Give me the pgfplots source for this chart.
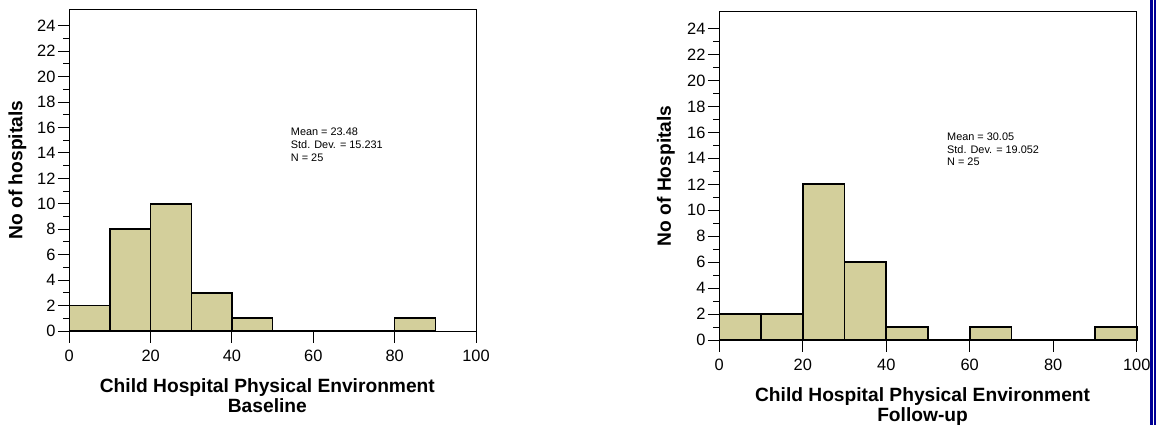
\documentclass[border=0pt]{standalone}
\usepackage{pgfplots}
\pgfplotsset{compat=1.18}
\usepackage{fontspec}
\setmainfont{Liberation Sans}
\definecolor{barfill}{RGB}{211,207,155}
\definecolor{navyb}{RGB}{0,0,150}
\pgfplotsset{
  histstyle/.style={
    scale only axis, anchor=south west,
    xmin=0, xmax=100, ymin=0, ymax=25.3,
    xtick={0,20,...,100}, ytick={0,2,...,24},
    minor y tick num=1,
    tick pos=left,
    tick align=outside,
    major tick length=5.75pt, minor tick length=3pt,
    every tick/.style={black, line width=0.5pt},
    axis line style={black, line width=0.5pt},
    tick label style={font=\fontsize{8.2}{9}\selectfont},
    /pgf/number format/assume math mode=true,
    yticklabel style={inner sep=1pt},
    label style={font=\fontsize{9.6}{10}\selectfont\bfseries},
    xlabel style={at={(axis description cs:0.487,0)}, anchor=north, yshift=-23.5pt, inner sep=0pt, align=center},
    clip=false,
  }
}
\begin{document}
\begin{tikzpicture}
\useasboundingbox (0,0) rectangle (578.5pt,212.5pt);
\begin{axis}[histstyle,
  at={(34.65pt,47pt)}, width=203.35pt, height=160.85pt,
  xlabel={Child Hospital Physical Environment\\Baseline},
  ylabel={No of hospitals},
  ylabel style={at={(axis description cs:-0.1275,0.5)}, anchor=center},
]
\addplot[ybar interval, fill=barfill, draw=black, line width=0.8pt]
  coordinates {(0,2)(10,8)(20,10)(30,3)(40,1)(50,0)(60,0)(70,0)(80,1)(90,0)};
\node[anchor=north west, align=left, inner sep=0pt, font=\fontsize{5.45}{6.4}\selectfont]
  at (axis cs:54.4,16.0) {Mean = 23.48\\Std. Dev. = 15.231\\N = 25};
\end{axis}
\begin{axis}[histstyle,
  at={(359.65pt,42.5pt)}, width=208.7pt, height=164.15pt,
  xlabel={Child Hospital Physical Environment\\Follow-up},
  ylabel={No of Hospitals},
  ylabel style={at={(axis description cs:-0.128,0.5)}, anchor=center},
]
\addplot[ybar interval, fill=barfill, draw=black, line width=0.8pt]
  coordinates {(0,2)(10,2)(20,12)(30,6)(40,1)(50,0)(60,1)(70,0)(80,0)(90,1)(100,0)};
\node[anchor=north west, align=left, inner sep=0pt, font=\fontsize{5.45}{6.4}\selectfont]
  at (axis cs:54.5,16.0) {Mean = 30.05\\Std. Dev. = 19.052\\N = 25};
\end{axis}
\fill[navyb] (575pt,0pt) rectangle (576.35pt,212.5pt);
\fill[navyb] (577pt,0pt) rectangle (577.85pt,212.5pt);
\end{tikzpicture}
\end{document}
